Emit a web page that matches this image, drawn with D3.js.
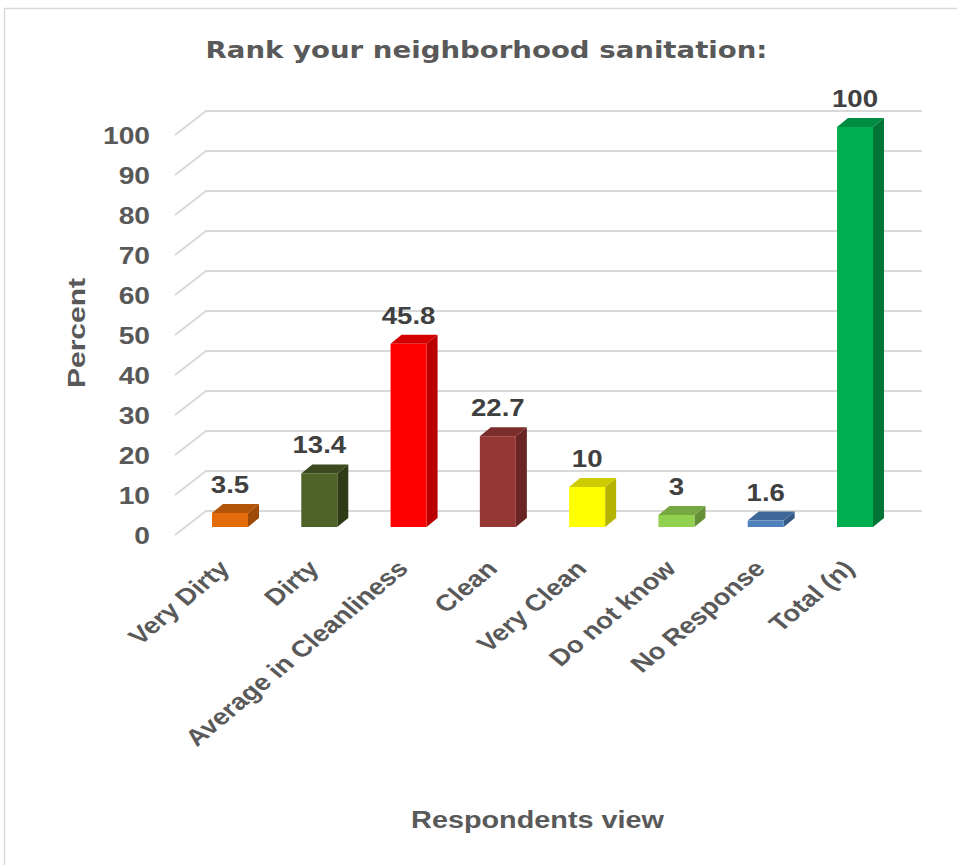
<!DOCTYPE html>
<html>
<head>
<meta charset="utf-8">
<script src="https://cdn.jsdelivr.net/npm/d3@7"></script>
<style>
  html, body { margin: 0; padding: 0; background: #fff; }
  svg { display: block; }
  text { font-family: "Liberation Sans", Arial, sans-serif; font-weight: bold; }
</style>
</head>
<body>
<svg id="chart" width="957" height="865"></svg>
<script>
const chartTitle = "Rank your neighborhood sanitation:";
const xAxisTitle = "Respondents view";
const yAxisTitle = "Percent";
const categories = ["Very Dirty", "Dirty", "Average in Cleanliness", "Clean", "Very Clean", "Do not know", "No Response", "Total (n)"];
const values = [3.5, 13.4, 45.8, 22.7, 10, 3, 1.6, 100];
const yTicks = [0, 10, 20, 30, 40, 50, 60, 70, 80, 90, 100];
const frontColors = ["#E46C0A", "#4F6228", "#FF0000", "#953735", "#FFFF00", "#92D050", "#4F81BD", "#00B050"];
const topColors   = ["#B35508", "#3B4A1E", "#D40000", "#7A2D2B", "#CCCC00", "#75A840", "#3E6898", "#008C40"];
const sideColors  = ["#9E4A06", "#2F3B17", "#B80000", "#682523", "#B3B300", "#648F37", "#365A85", "#007535"];

const svg = d3.select("#chart");
const stretch = 1.2;

// chart border
svg.append("rect").attr("x", 4.5).attr("y", 8.5).attr("width", 1000).attr("height", 1000)
  .attr("fill", "#fff").attr("stroke", "#d9d9d9").attr("stroke-width", 1.5);

const x = d3.scalePoint().domain(categories).range([230, 855]);
const y = d3.scaleLinear().domain([0, 100]).range([527, 127]);
const barW = 36, depthX = 11, depthY = 9;
const wallDX = 31, backOff = -16, frontOff = 8;
const gridLeft = 175, gridRight = 922;

// gridlines (side wall diagonal + back wall horizontal)
svg.append("g").selectAll("path").data(yTicks).join("path")
  .attr("d", v => {
    const p = d3.path();
    p.moveTo(gridLeft, y(v) + frontOff);
    p.lineTo(gridLeft + wallDX, y(v) + backOff);
    p.lineTo(gridRight, y(v) + backOff);
    return p.toString();
  })
  .attr("fill", "none").attr("stroke", "#d9d9d9").attr("stroke-width", 2);

// y tick labels
svg.append("g").selectAll("text").data(yTicks).join("text")
  .attr("transform", v => `translate(150,${y(v) + frontOff + 8.5}) scale(${stretch},1)`)
  .attr("text-anchor", "end").attr("font-size", 23.5).attr("fill", "#595959")
  .text(v => v);

// bars
const bars = svg.append("g").selectAll("g").data(categories).join("g");
bars.append("path")
  .attr("d", (c, i) => {
    const x0 = x(c) + barW / 2, y0 = y(values[i]), y1 = y(0);
    return `M${x0},${y0}L${x0 + depthX},${y0 - depthY}L${x0 + depthX},${y1 - depthY}L${x0},${y1}Z`;
  })
  .attr("fill", (c, i) => sideColors[i]);
bars.append("path")
  .attr("d", (c, i) => {
    const xl = x(c) - barW / 2, xr = x(c) + barW / 2, y0 = y(values[i]);
    return `M${xl},${y0}L${xl + depthX},${y0 - depthY}L${xr + depthX},${y0 - depthY}L${xr},${y0}Z`;
  })
  .attr("fill", (c, i) => topColors[i]);
bars.append("rect")
  .attr("x", c => x(c) - barW / 2)
  .attr("y", (c, i) => y(values[i]))
  .attr("width", barW)
  .attr("height", (c, i) => y(0) - y(values[i]))
  .attr("fill", (c, i) => frontColors[i]);

// data labels
svg.append("g").selectAll("text").data(categories).join("text")
  .attr("transform", (c, i) => `translate(${x(c)},${y(values[i]) - 20}) scale(${stretch},1)`)
  .attr("text-anchor", "middle").attr("font-size", 23).attr("fill", "#404040")
  .text((c, i) => values[i]);

// category labels (rotated, then stretched horizontally like the reference)
svg.append("g").selectAll("text").data(categories).join("text")
  .attr("transform", c => `translate(${x(c) + 1},${570}) scale(${stretch},1) rotate(-45)`)
  .attr("text-anchor", "end").attr("font-size", 23).attr("fill", "#595959")
  .text(c => c);

// title
svg.append("text")
  .attr("transform", `translate(486.5,58) scale(${stretch},1)`)
  .attr("text-anchor", "middle")
  .style("font-family", "'DejaVu Sans', Verdana, sans-serif")
  .attr("font-size", 23).attr("fill", "#595959")
  .text(chartTitle);

// axis titles
svg.append("text")
  .attr("transform", `translate(537.5,828) scale(${stretch},1)`)
  .attr("text-anchor", "middle").attr("font-size", 24).attr("fill", "#595959")
  .text(xAxisTitle);
svg.append("text")
  .attr("transform", "translate(85,333) rotate(-90) scale(1.25,1)")
  .attr("text-anchor", "middle").attr("font-size", 24).attr("fill", "#595959")
  .text(yAxisTitle);
</script>
</body>
</html>
